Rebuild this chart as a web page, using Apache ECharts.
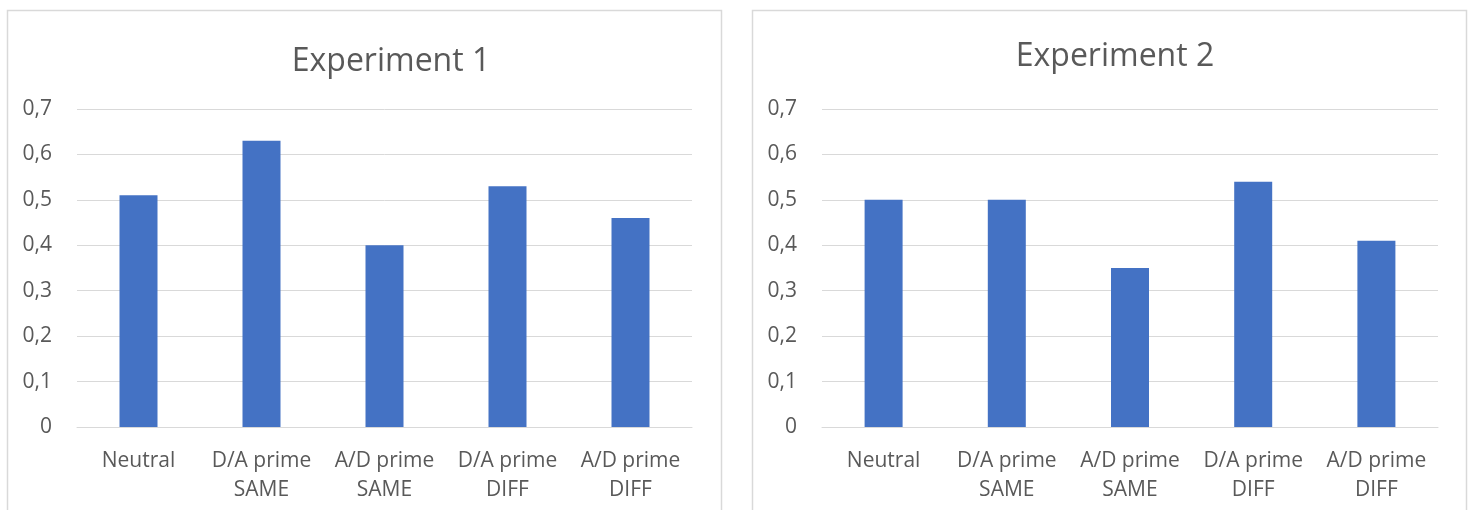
<!DOCTYPE html>
<html>
<head>
<meta charset="utf-8">
<script src="https://cdn.jsdelivr.net/npm/echarts@6/dist/echarts.min.js"></script>
<style>
html,body{margin:0;padding:0;background:#fff;}
#chart{width:1471px;height:510px;}
</style>
</head>
<body>
<div id="chart"></div>
<script>
const categories = ['Neutral', 'D/A prime\nSAME', 'A/D prime\nSAME', 'D/A prime\nDIFF', 'A/D prime\nDIFF'];
const experiment1 = [0.51, 0.63, 0.40, 0.53, 0.46];
const experiment2 = [0.50, 0.50, 0.35, 0.54, 0.41];
const titles = ['Experiment 1', 'Experiment 2'];
const yMin = 0, yMax = 0.7, yStep = 0.1;

const FONT = '"Open Sans", "Noto Sans", sans-serif';
const TXT = '#595959';
const GRID = '#d9d9d9';
const BAR = '#4472C4';

const chart = echarts.init(document.getElementById('chart'));

function yAxis(i) {
  return {
    type: 'value', gridIndex: i, min: yMin, max: yMax, interval: yStep,
    axisLine: {show: false}, axisTick: {show: false},
    splitLine: {lineStyle: {color: GRID, width: 1}},
    axisLabel: {
      color: TXT, fontFamily: FONT, fontSize: 21, margin: 25,
      formatter: v => String(+v.toFixed(1)).replace('.', ',')
    }
  };
}
function xAxis(i) {
  return {
    type: 'category', gridIndex: i, data: categories,
    axisLine: {lineStyle: {color: GRID, width: 1}}, axisTick: {show: false},
    axisLabel: {color: TXT, fontFamily: FONT, fontSize: 21, lineHeight: 29, margin: 20, interval: 0}
  };
}

chart.setOption({
  backgroundColor: '#fff',
  animation: false,
  graphic: [
    {type: 'rect', shape: {x: 7.5, y: 10.5, width: 714, height: 520}, style: {fill: 'none', stroke: '#d9d9d9', lineWidth: 1.5}},
    {type: 'rect', shape: {x: 752.5, y: 10.5, width: 714, height: 520}, style: {fill: 'none', stroke: '#d9d9d9', lineWidth: 1.5}}
  ],
  title: [
    {text: titles[0], left: 386, top: 41, textAlign: 'center',
     textStyle: {color: TXT, fontFamily: FONT, fontSize: 32, fontWeight: 'normal'}},
    {text: titles[1], left: 1110, top: 36, textAlign: 'center',
     textStyle: {color: TXT, fontFamily: FONT, fontSize: 32, fontWeight: 'normal'}}
  ],
  grid: [
    {left: 77, right: 1471 - 692, top: 109, bottom: 510 - 427},
    {left: 822, right: 1471 - 1438, top: 109, bottom: 510 - 427}
  ],
  xAxis: [xAxis(0), xAxis(1)],
  yAxis: [yAxis(0), yAxis(1)],
  series: [
    {type: 'bar', xAxisIndex: 0, yAxisIndex: 0, data: experiment1, barWidth: 38, itemStyle: {color: BAR}},
    {type: 'bar', xAxisIndex: 1, yAxisIndex: 1, data: experiment2, barWidth: 38, itemStyle: {color: BAR}}
  ]
});
</script>
</body>
</html>
